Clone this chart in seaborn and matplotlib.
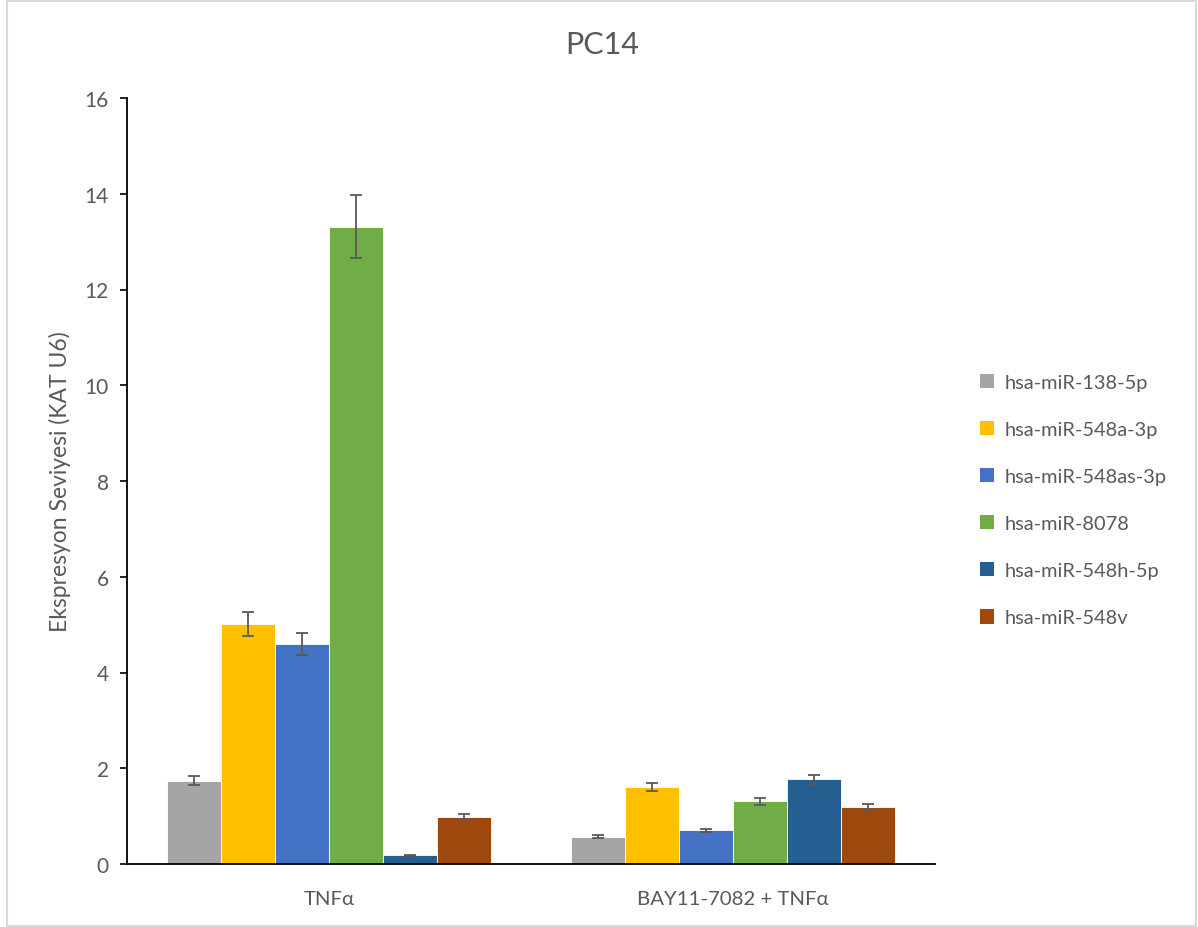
import numpy as np
import pandas as pd
import matplotlib
matplotlib.use("Agg")
import matplotlib.pyplot as plt
from matplotlib.patches import Rectangle, Patch
import seaborn as sns

# Treatment groups and miRNA series
conditions = ["TNFα", "BAY11-7082 + TNFα"]
mirnas = ["hsa-miR-138-5p", "hsa-miR-548a-3p", "hsa-miR-548as-3p",
          "hsa-miR-8078", "hsa-miR-548h-5p", "hsa-miR-548v"]

# Mean fold change (relative to U6), one list per condition, in miRNA order
tnf_means = [1.74, 5.01, 4.59, 13.31, 0.18, 0.98]
bay_means = [0.57, 1.61, 0.70, 1.31, 1.77, 1.19]

# Error bar half-widths
tnf_err = [0.09, 0.25, 0.23, 0.66, 0.01, 0.06]
bay_err = [0.03, 0.09, 0.04, 0.07, 0.09, 0.06]

colors = ["#A5A5A5", "#FFC000", "#4472C4", "#70AD47", "#255E91", "#9E480E"]

y_ticks = [0, 2, 4, 6, 8, 10, 12, 14, 16]

rows = []
for cond, means, errs in [(conditions[0], tnf_means, tnf_err),
                          (conditions[1], bay_means, bay_err)]:
    for m, v, e in zip(mirnas, means, errs):
        rows.append({"Koşul": cond, "miRNA": m, "Değer": v, "Hata": e})
df = pd.DataFrame(rows)

sns.set_theme(style="white")
plt.rcParams["font.family"] = ["Lato", "DejaVu Sans"]
text_color = "#595959"

fig = plt.figure(figsize=(11.98, 9.28), dpi=100)
ax = fig.add_axes([127 / 1198, 1 - 865 / 928, (935 - 127) / 1198, (865 - 99) / 928])

sns.barplot(data=df, x="Koşul", y="Değer", hue="miRNA", order=conditions,
            hue_order=mirnas, palette=colors, errorbar=None, width=0.8,
            edgecolor="white", linewidth=0.6, saturation=1, ax=ax, legend=False)

# Error bars placed at the centers of the drawn bars
for container, m in zip(ax.containers, mirnas):
    sub = df[df["miRNA"] == m].set_index("Koşul").loc[conditions]
    xs = [p.get_x() + p.get_width() / 2 for p in container.patches]
    ax.errorbar(xs, sub["Değer"].values, yerr=sub["Hata"].values, fmt="none",
                ecolor="#595959", elinewidth=1.3, capsize=4.5, capthick=1.3,
                zorder=5)

ax.set_ylim(0, 16)
ax.set_xlim(-0.5, 1.5)
ax.set_yticks(y_ticks)
ax.set_yticklabels([str(t) for t in y_ticks])
ax.tick_params(axis="y", which="both", left=True, length=5, width=1.2,
               color="black", labelsize=15, labelcolor=text_color, pad=8)
ax.tick_params(axis="x", bottom=False, labelsize=14.7, labelcolor=text_color, pad=13)
ax.set_xlabel("")
ax.set_ylabel("")

for side in ["top", "right"]:
    ax.spines[side].set_visible(False)
for side in ["left", "bottom"]:
    ax.spines[side].set_color("black")
    ax.spines[side].set_linewidth(1.3)

fig.text(60 / 1198, 1 - 482 / 928, "Ekspresyon Seviyesi (KAT U6)", rotation=90,
         ha="center", va="center", fontsize=16.5, color=text_color)
fig.text(602 / 1198, 1 - 45 / 928, "PC14", ha="center", va="center",
         fontsize=22, color=text_color)

handles = [Patch(facecolor=c, edgecolor="none") for c in colors]
fig.legend(handles, mirnas, loc="center left",
           bbox_to_anchor=(962 / 1198, 1 - 501 / 928), frameon=False,
           fontsize=14.4, labelcolor=text_color, handlelength=0.72,
           handleheight=0.72, handletextpad=0.5, labelspacing=1.5)

fig.patches.append(Rectangle((7 / 1198, 1 / 928), 1189 / 1198, 925 / 928,
                             transform=fig.transFigure, fill=False,
                             edgecolor="#D9D9D9", linewidth=1.5))

fig.savefig("out.png", dpi=100)
